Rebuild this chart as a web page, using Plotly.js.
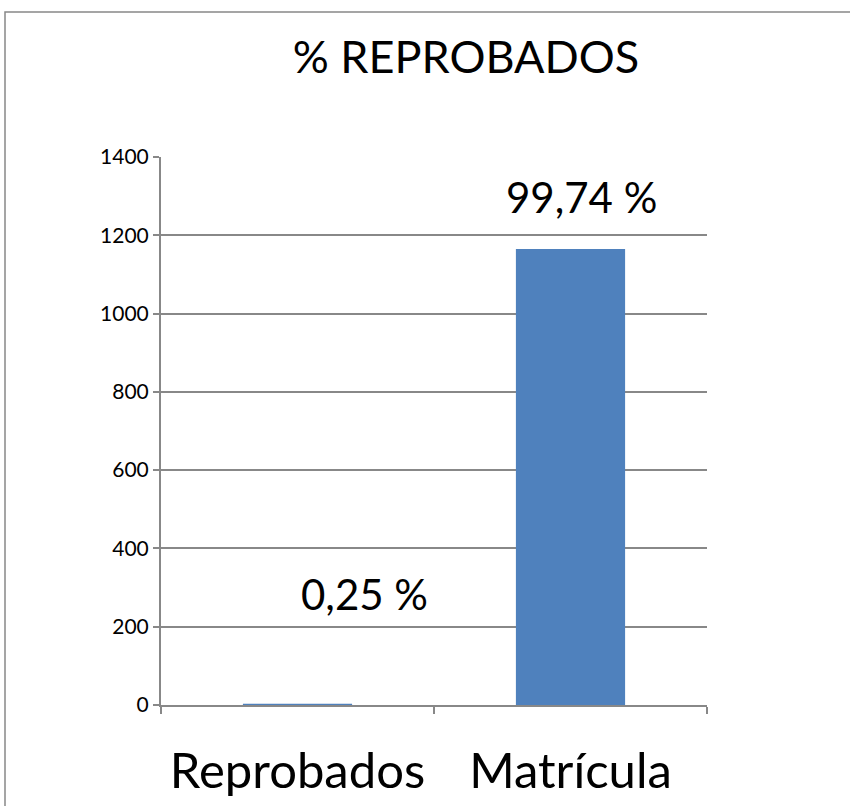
<!DOCTYPE html>
<html>
<head>
<meta charset="utf-8">
<script src="https://cdn.plot.ly/plotly-3.0.1.min.js"></script>
<style>
  html, body { margin: 0; padding: 0; background: #fff; }
  #chart { width: 850px; height: 806px; }
</style>
</head>
<body>
<div id="chart"></div>
<script>
const categories = ["Reprobados", "Matrícula"];
const values = [3, 1165];
const pctLabels = ["0,25 %", "99,74 %"];
const yTicks = [0, 200, 400, 600, 800, 1000, 1200, 1400];
const chartTitle = "% REPROBADOS";

const FONT = "Lato, 'Open Sans', sans-serif";

const trace = {
  type: "bar",
  x: categories,
  y: values,
  marker: { color: "#4F81BD", line: { width: 0 } },
  width: 0.4,
  hoverinfo: "x+y"
};

const annotations = [
  { x: categories[0], y: values[0], xref: "x", yref: "y", text: pctLabels[0],
    showarrow: false, xshift: 67, yshift: 110, font: { family: FONT, size: 42, color: "#000" } },
  { x: categories[1], y: values[1], xref: "x", yref: "y", text: pctLabels[1],
    showarrow: false, xshift: 11, yshift: 52, font: { family: FONT, size: 42, color: "#000" } }
];

const layout = {
  width: 850, height: 806,
  margin: { l: 161, r: 143, t: 157, b: 101 },
  paper_bgcolor: "#fff", plot_bgcolor: "#fff",
  showlegend: false,
  font: { family: FONT, color: "#000" },
  title: { text: chartTitle, x: 466 / 850, xref: "container", xanchor: "center",
           y: 1 - 57 / 806, yref: "container", yanchor: "middle",
           font: { family: FONT, size: 45, color: "#000" } },
  xaxis: {
    type: "category",
    tickson: "boundaries",
    ticks: "outside", ticklen: 7, tickwidth: 2, tickcolor: "#888",
    showline: true, linecolor: "#888", linewidth: 2,
    showgrid: false,
    ticklabelstandoff: 22,
    tickfont: { family: FONT, size: 49, color: "#000" },
    fixedrange: true
  },
  yaxis: {
    range: [0, 1400],
    tickvals: yTicks,
    ticktext: yTicks.map(String),
    ticks: "outside", ticklen: 6, tickwidth: 2, tickcolor: "#888",
    showline: true, linecolor: "#888", linewidth: 2,
    showgrid: true, gridcolor: "#888", gridwidth: 2,
    zeroline: false,
    tickfont: { family: FONT, size: 21, color: "#000" },
    fixedrange: true
  },
  bargap: 0.6,
  annotations: annotations,
  shapes: [
    { type: "rect", xref: "paper", yref: "paper",
      x0: (5 - 161) / 546, x1: (880 - 161) / 546,
      y0: (705 - 840) / 548, y1: (705 - 12) / 548,
      line: { color: "#888", width: 1.5 }, fillcolor: "rgba(0,0,0,0)", layer: "below" }
  ]
};

Plotly.newPlot("chart", [trace], layout, { displayModeBar: false, staticPlot: true });
</script>
</body>
</html>
